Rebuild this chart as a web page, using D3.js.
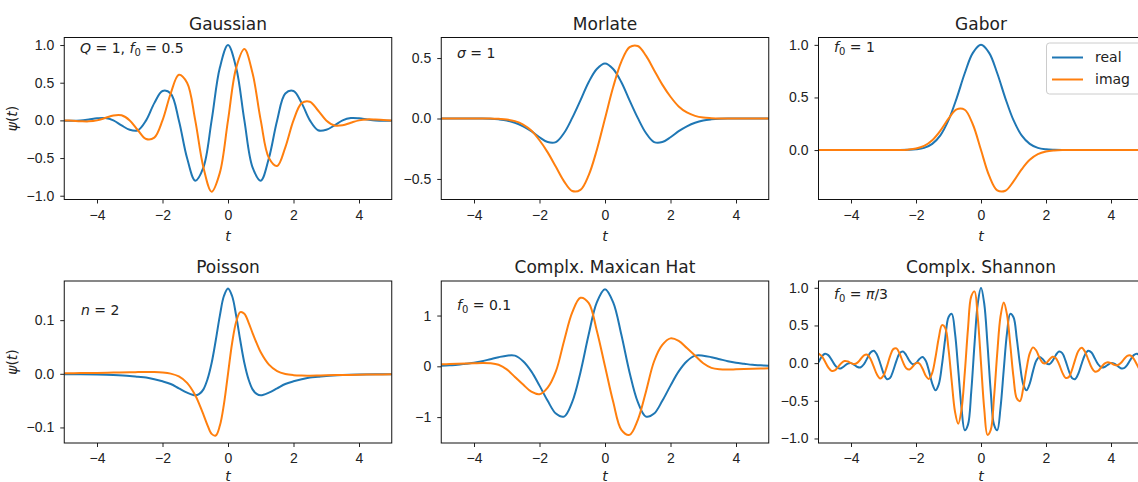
<!DOCTYPE html>
<html>
<head>
<meta charset="utf-8">
<script src="https://cdn.jsdelivr.net/npm/d3@7"></script>
<style>
	body { margin: 0; background: #fff; overflow: hidden; }
	svg { display: block; font-family: "DejaVu Sans", sans-serif; }
	.tick text { font-size: 14px; fill: #222; }
	.tick line { stroke: #222; }
</style>
</head>
<body>
<svg id="chart"></svg>
<script>
// sample grids (t axis)
const tQuarter = [-5,-4.75,-4.5,-4.25,-4,-3.75,-3.5,-3.25,-3,-2.75,-2.5,-2.25,-2,-1.75,-1.5,-1.25,-1,-0.75,-0.5,-0.25,0,
	0.25,0.5,0.75,1,1.25,1.5,1.75,2,2.25,2.5,2.75,3,3.25,3.5,3.75,4,4.25,4.5,4.75,5];
const tPoisson = [-5,-4.5,-4,-3.5,-3,-2.75,-2.5,-2.25,-2,-1.75,-1.5,-1.25,-1,-0.875,-0.75,-0.625,-0.5,-0.375,-0.25,-0.125,0,
	0.125,0.25,0.375,0.5,0.625,0.75,0.875,1,1.25,1.5,1.75,2,2.25,2.5,2.75,3,3.5,4,4.5,5];
const tTenth = [-5,-4.9,-4.8,-4.7,-4.6,-4.5,-4.4,-4.3,-4.2,-4.1,-4,-3.9,-3.8,-3.7,-3.6,-3.5,-3.4,-3.3,-3.2,-3.1,
	-3,-2.9,-2.8,-2.7,-2.6,-2.5,-2.4,-2.3,-2.2,-2.1,-2,-1.9,-1.8,-1.7,-1.6,-1.5,-1.4,-1.3,-1.2,-1.1,
	-1,-0.9,-0.8,-0.7,-0.6,-0.5,-0.4,-0.3,-0.2,-0.1,0,0.1,0.2,0.3,0.4,0.5,0.6,0.7,0.8,0.9,
	1,1.1,1.2,1.3,1.4,1.5,1.6,1.7,1.8,1.9,2,2.1,2.2,2.3,2.4,2.5,2.6,2.7,2.8,2.9,
	3,3.1,3.2,3.3,3.4,3.5,3.6,3.7,3.8,3.9,4,4.1,4.2,4.3,4.4,4.5,4.6,4.7,4.8,4.9,5];

// Gaussian (Q=1, f0=0.5)
const gaussReal = [-0.004,-0.005,0,0.013,0.028,0.031,0,-0.067,-0.125,-0.131,0,0.229,0.39,0.357,0,-0.499,-0.8,-0.624,0,0.697,1,
	0.697,0,-0.624,-0.8,-0.499,0,0.357,0.39,0.229,0,-0.131,-0.125,-0.067,0,0.031,0.028,0.013,0,-0.005,-0.004];
const gaussImag = [0,-0.005,-0.011,-0.013,0,0.031,0.065,0.067,0,-0.131,-0.248,-0.229,0,0.357,0.605,0.499,0,-0.624,-0.946,-0.697,0,
	0.697,0.946,0.624,0,-0.499,-0.605,-0.357,0,0.229,0.248,0.131,0,-0.067,-0.065,-0.031,0,0.013,0.011,0.005,0];

// Morlate (sigma=1)
const morletReal = [0,0,0,0,0,0,-0.002,-0.007,-0.016,-0.035,-0.065,-0.105,-0.155,-0.195,-0.195,-0.12,0.005,0.15,0.3,0.41,0.455,
	0.41,0.3,0.15,0.005,-0.12,-0.195,-0.195,-0.155,-0.105,-0.065,-0.035,-0.016,-0.007,-0.002,0,0,0,0,0,0];
const morletImag = [0,0,0,0,0,0,0,-0.003,-0.008,-0.022,-0.05,-0.1,-0.18,-0.28,-0.4,-0.52,-0.6,-0.59,-0.47,-0.26,0,
	0.26,0.47,0.59,0.6,0.52,0.4,0.28,0.18,0.1,0.05,0.022,0.008,0.003,0,0,0,0,0,0,0];

// Gabor (f0=1)
const gaborReal = [0,0,0,0,0,0,0,0,0,0,0,0.002,0.007,0.021,0.059,0.14,0.284,0.492,0.73,0.924,1,
	0.924,0.73,0.492,0.284,0.14,0.059,0.021,0.007,0.002,0,0,0,0,0,0,0,0,0,0,0];
const gaborImag = [0,0,0,0,0,0,0,0,0,0,0,0.004,0.014,0.039,0.093,0.184,0.298,0.387,0.383,0.243,0,
	-0.243,-0.383,-0.387,-0.298,-0.184,-0.093,-0.039,-0.014,-0.004,0,0,0,0,0,0,0,0,0,0,0];

// Poisson (n=2)
const poissonReal = [-0.0007,-0.001,-0.0015,-0.0024,-0.004,-0.0055,-0.007,-0.01,-0.014,-0.019,-0.027,-0.035,-0.04,-0.0375,-0.029,-0.01,0.02,0.062,0.108,0.145,0.159,
	0.145,0.108,0.062,0.02,-0.01,-0.029,-0.0375,-0.04,-0.035,-0.027,-0.019,-0.014,-0.01,-0.007,-0.0055,-0.004,-0.0024,-0.0015,-0.001,-0.0007];
const poissonImag = [0.001,0.0013,0.0017,0.0022,0.0029,0.0032,0.0034,0.0033,0.0025,0.0003,-0.005,-0.017,-0.04,-0.057,-0.076,-0.096,-0.112,-0.115,-0.097,-0.057,0,
	0.057,0.097,0.115,0.112,0.096,0.076,0.057,0.04,0.017,0.005,-0.0003,-0.0025,-0.0033,-0.0034,-0.0032,-0.0029,-0.0022,-0.0017,-0.0013,-0.001];

// Complx. Maxican Hat (f0=0.1)
const mexhatReal = [0.01,0.02,0.03,0.05,0.07,0.1,0.14,0.18,0.21,0.21,0.1,-0.1,-0.38,-0.68,-0.93,-0.99,-0.7,-0.12,0.62,1.26,1.52,
	1.26,0.62,-0.12,-0.7,-0.99,-0.93,-0.68,-0.38,-0.1,0.1,0.21,0.21,0.18,0.14,0.1,0.07,0.05,0.03,0.02,0.01];
const mexhatImag = [0.04,0.045,0.05,0.055,0.06,0.065,0.06,0.03,-0.06,-0.21,-0.36,-0.5,-0.55,-0.42,-0.1,0.5,1.06,1.35,1.25,0.7,0,
	-0.7,-1.25,-1.35,-1.06,-0.5,0.1,0.42,0.55,0.5,0.36,0.21,0.06,-0.03,-0.06,-0.065,-0.06,-0.055,-0.05,-0.045,-0.04];

// Complx. Shannon (f0=pi/3)
const shannonReal = [0.011,0.087,0.124,0.106,0.046,-0.023,-0.066,-0.067,-0.038,-0.007,0,-0.022,-0.051,-0.055,-0.013,0.065,0.141,0.165,0.112,-0.005,
	-0.134,-0.211,-0.197,-0.098,0.034,0.133,0.155,0.105,0.03,-0.015,0,0.052,0.082,0.032,-0.106,-0.271,-0.36,-0.281,-0.021,0.33,
	0.609,0.654,0.397,-0.086,-0.594,-0.891,-0.816,-0.378,0.248,0.788,1,
	0.788,0.248,-0.378,-0.816,-0.891,-0.594,-0.086,0.397,0.654,0.609,0.33,-0.021,-0.281,-0.36,-0.271,-0.106,0.032,0.082,0.052,0,
	-0.015,0.03,0.105,0.155,0.133,0.034,-0.098,-0.197,-0.211,-0.134,-0.005,0.112,0.165,0.141,0.065,-0.013,-0.055,-0.051,-0.022,0,
	-0.007,-0.038,-0.067,-0.066,-0.023,0.046,0.106,0.124,0.087,0.011];
const shannonImag = [0.127,0.094,0.021,-0.057,-0.102,-0.097,-0.053,-0.001,0.028,0.023,0,-0.013,0.007,0.055,0.103,0.111,0.056,-0.047,-0.152,-0.203,
	-0.165,-0.05,0.089,0.186,0.195,0.122,0.013,-0.068,-0.084,-0.045,0,-0.003,-0.072,-0.167,-0.209,-0.129,0.078,0.334,0.504,0.467,
	0.186,-0.247,-0.644,-0.806,-0.619,-0.133,0.458,0.886,0.952,0.609,0,
	-0.609,-0.952,-0.886,-0.458,0.133,0.619,0.806,0.644,0.247,-0.186,-0.467,-0.504,-0.334,-0.078,0.129,0.209,0.167,0.072,0.003,0,
	0.045,0.084,0.068,-0.013,-0.122,-0.195,-0.186,-0.089,0.05,0.165,0.203,0.152,0.047,-0.056,-0.111,-0.103,-0.055,-0.007,0.013,0,
	-0.023,-0.028,0.001,0.053,0.097,0.102,0.057,-0.021,-0.094,-0.127];

// tick labels
const xTicks = [-4, -2, 0, 2, 4];
const yTicksUnit = [-1, -0.5, 0, 0.5, 1];
const yTicksHalf = [-0.5, 0, 0.5];
const yTicksGabor = [0, 0.5, 1];
const yTicksPoisson = [-0.1, 0, 0.1];
const yTicksMexhat = [-1, 0, 1];

const blue = "#1f77b4";
const orange = "#ff7f0e";

// frame pixel positions of the 2x3 grid
const colX = [[64.25, 391.75], [441.25, 768.75], [818.5, 1143.5]];
const rowY = [[37.5, 199.5], [281, 443]];
// baseline of the "t" label under each row (bottom one kept inside the page)
const xLabelY = [241, 480.5];

// one entry per subplot, [text, style] pieces for the math notes
const panels = [
	{ title: "Gaussian", t: tQuarter, re: gaussReal, im: gaussImag, yDomain: [-1.05, 1.1], yTicks: yTicksUnit, fmt: ".1f",
		note: [["Q", "i"], [" = 1, ", ""], ["f", "i"], ["0", "sub"], [" = 0.5", ""]], noteXY: [80, 53] },
	{ title: "Morlate", t: tQuarter, re: morletReal, im: morletImag, yDomain: [-0.67, 0.67], yTicks: yTicksHalf, fmt: ".1f",
		note: [["σ", "i"], [" = 1", ""]], noteXY: [457, 58] },
	{ title: "Gabor", t: tQuarter, re: gaborReal, im: gaborImag, yDomain: [-0.47, 1.07], yTicks: yTicksGabor, fmt: ".1f",
		note: [["f", "i"], ["0", "sub"], [" = 1", ""]], noteXY: [834, 52], legend: true },
	{ title: "Poisson", t: tPoisson, re: poissonReal, im: poissonImag, yDomain: [-0.129, 0.173], yTicks: yTicksPoisson, fmt: ".1f",
		note: [["n", "i"], [" = 2", ""]], noteXY: [81, 315] },
	{ title: "Complx. Maxican Hat", t: tQuarter, re: mexhatReal, im: mexhatImag, yDomain: [-1.51, 1.68], yTicks: yTicksMexhat, fmt: "d",
		note: [["f", "i"], ["0", "sub"], [" = 0.1", ""]], noteXY: [457, 310] },
	{ title: "Complx. Shannon", t: tTenth, re: shannonReal, im: shannonImag, yDomain: [-1.06, 1.09], yTicks: yTicksUnit, fmt: ".1f",
		note: [["f", "i"], ["0", "sub"], [" = ", ""], ["π", "i"], ["/3", ""]], noteXY: [834, 299] },
];

// writes [text, style] pieces as tspans, "i" = italic, "sub" = subscript
function mathText(textSel, parts) {
	let shift = 0;
	parts.forEach(([s, style]) => {
		const ts = textSel.append("tspan").text(s);
		const target = style === "sub" ? 3 : 0;
		if (target !== shift) {
			ts.attr("dy", target - shift);
			shift = target;
		}
		if (style === "i") ts.attr("font-style", "italic");
		if (style === "sub") ts.attr("font-size", "10px");
	});
}

document.addEventListener("DOMContentLoaded", function () {
	const w = 1138;
	const h = 482;
	const svg = d3.select("#chart").attr("width", w).attr("height", h);

	panels.forEach((p, i) => {
		const col = i % 3;
		const row = Math.floor(i / 3);
		const [x0, x1] = colX[col];
		const [y0, y1] = rowY[row];

		const xScale = d3.scaleLinear().domain([-5, 5]).range([x0, x1]);
		const yScale = d3.scaleLinear().domain(p.yDomain).range([y1, y0]);

		const g = svg.append("g");

		g.append("clipPath")
			.attr("id", "clip" + i)
			.append("rect")
			.attr("x", x0)
			.attr("y", y0)
			.attr("width", x1 - x0)
			.attr("height", y1 - y0);

		// axes, frame is drawn separately
		g.append("g")
			.attr("transform", "translate(0," + y1 + ")")
			.call(d3.axisBottom(xScale).tickValues(xTicks).tickFormat(d3.format("d")).tickSize(4).tickPadding(6.5))
			.call((a) => a.select(".domain").remove());
		g.append("g")
			.attr("transform", "translate(" + x0 + ",0)")
			.call(d3.axisLeft(yScale).tickValues(p.yTicks).tickFormat(d3.format(p.fmt)).tickSize(4).tickPadding(6))
			.call((a) => a.select(".domain").remove());

		const line = d3
			.line()
			.x((d, k) => xScale(p.t[k]))
			.y((d) => yScale(d))
			.curve(d3.curveCatmullRom);

		const lines = g.append("g").attr("clip-path", "url(#clip" + i + ")");
		lines.append("path").datum(p.re).attr("d", line)
			.attr("fill", "none").attr("stroke", blue).attr("stroke-width", 2);
		lines.append("path").datum(p.im).attr("d", line)
			.attr("fill", "none").attr("stroke", orange).attr("stroke-width", 2);

		// frame on top of the lines
		g.append("rect")
			.attr("x", x0)
			.attr("y", y0)
			.attr("width", x1 - x0)
			.attr("height", y1 - y0)
			.attr("fill", "none")
			.attr("stroke", "#111")
			.attr("stroke-width", 1);

		// title
		g.append("text")
			.attr("x", (x0 + x1) / 2)
			.attr("y", y0 - 8)
			.attr("text-anchor", "middle")
			.attr("font-size", 17)
			.attr("fill", "#222")
			.text(p.title);

		// x label
		g.append("text")
			.attr("x", (x0 + x1) / 2)
			.attr("y", xLabelY[row])
			.attr("text-anchor", "middle")
			.attr("font-size", 14)
			.attr("font-style", "italic")
			.attr("fill", "#222")
			.text("t");

		// y label only on the left column
		if (col === 0) {
			const yl = g.append("text")
				.attr("transform", "translate(17," + (y0 + y1) / 2 + ") rotate(-90)")
				.attr("text-anchor", "middle")
				.attr("font-size", 14)
				.attr("fill", "#222");
			mathText(yl, [["ψ", "i"], ["(", ""], ["t", "i"], [")", ""]]);
		}

		// parameter note in the corner
		const note = g.append("text")
			.attr("x", p.noteXY[0])
			.attr("y", p.noteXY[1])
			.attr("font-size", 14)
			.attr("fill", "#222");
		mathText(note, p.note);

		if (p.legend) {
			const lg = g.append("g").attr("transform", "translate(1046.5,43)");
			lg.append("rect")
				.attr("width", 110)
				.attr("height", 51)
				.attr("rx", 3)
				.attr("fill", "#fff")
				.attr("fill-opacity", 0.8)
				.attr("stroke", "#ccc");
			[["real", blue], ["imag", orange]].forEach(([name, c], k) => {
				const yy = 14.5 + k * 22;
				lg.append("line")
					.attr("x1", 5.5).attr("x2", 36.5)
					.attr("y1", yy).attr("y2", yy)
					.attr("stroke", c).attr("stroke-width", 2);
				lg.append("text")
					.attr("x", 48.5)
					.attr("y", yy)
					.attr("dy", "0.35em")
					.attr("font-size", 14)
					.attr("fill", "#222")
					.text(name);
			});
		}
	});
});
</script>
</body>
</html>
